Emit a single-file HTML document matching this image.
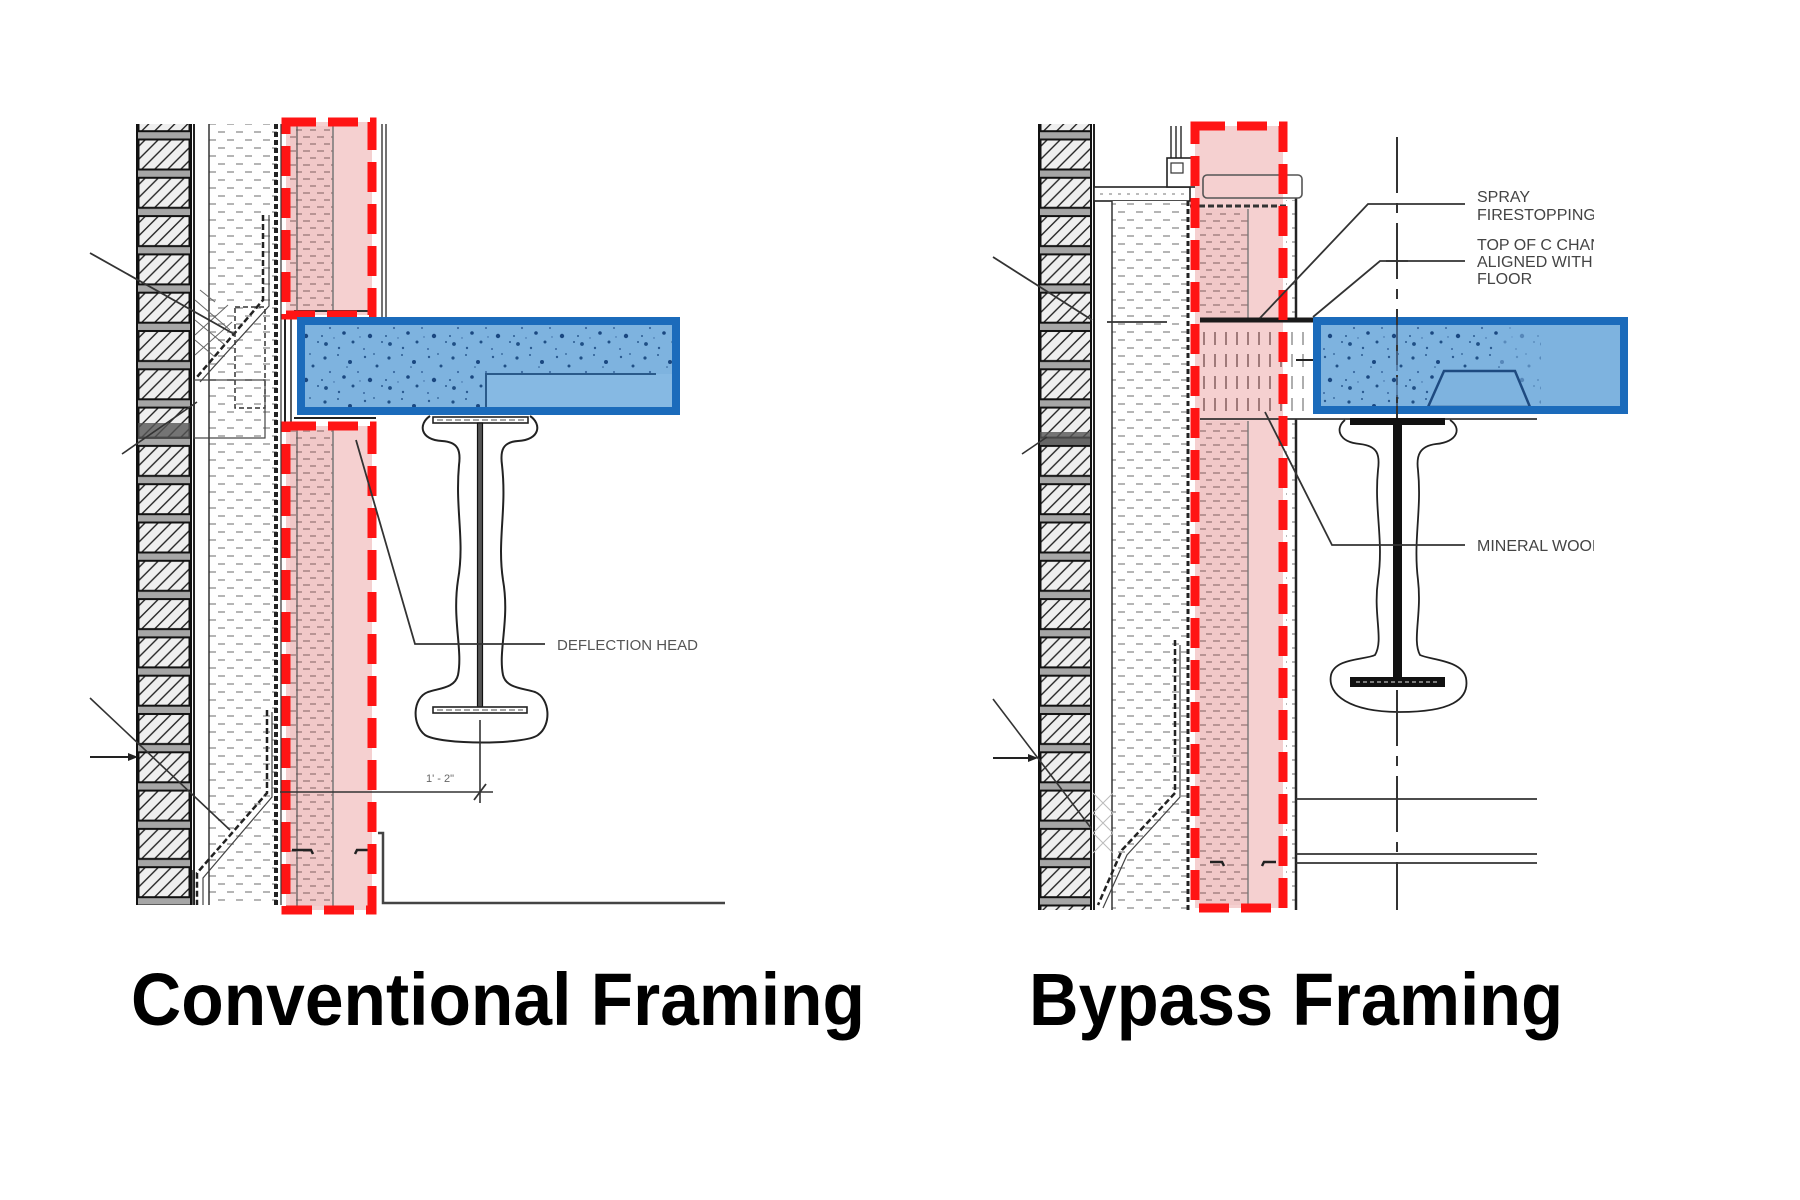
<!DOCTYPE html>
<html>
<head>
<meta charset="utf-8">
<style>
  html, body { margin: 0; padding: 0; background: #fff; }
  body { width: 1800px; height: 1200px; overflow: hidden; }
  svg { display: block; }
  .lbl { font-family: "Liberation Sans", Arial, sans-serif; font-size: 16px; fill: #444; }
  .ttl { font-family: "Liberation Sans", Arial, sans-serif; font-weight: bold; font-size: 74px; fill: #000; }
</style>
</head>
<body>
<svg width="1800" height="1200" viewBox="0 0 1800 1200" xmlns="http://www.w3.org/2000/svg">
  <defs>
    <pattern id="hatch" patternUnits="userSpaceOnUse" width="13" height="13">
      <rect width="13" height="13" fill="#efefef"/>
      <path d="M-2 15 L15 -2 M-2 2 L2 -2 M11 15 L15 11" stroke="#222" stroke-width="1.4"/>
    </pattern>
    <pattern id="brick" patternUnits="userSpaceOnUse" x="0" y="135" width="54" height="38.3">
      <rect width="54" height="38.3" fill="#a6a6a6"/>
      <rect x="1.5" y="4.5" width="51" height="30" fill="url(#hatch)" stroke="#111" stroke-width="2"/>
    </pattern>
    <pattern id="ins" patternUnits="userSpaceOnUse" width="18" height="16">
      <rect width="18" height="16" fill="#fff"/>
      <rect x="2" y="3" width="7" height="2" fill="#b5b5b5"/>
      <rect x="11" y="11" width="7" height="2" fill="#b5b5b5"/>
    </pattern>
    <pattern id="pdots" patternUnits="userSpaceOnUse" width="14" height="14">
      <rect width="14" height="14" fill="#f1c8c8"/>
      <rect x="2" y="3" width="6" height="2" fill="#b89494"/>
      <rect x="9" y="10" width="5" height="2" fill="#b89494"/>
      <rect x="0" y="10" width="2" height="2" fill="#b89494"/>
    </pattern>
    <pattern id="wdots" patternUnits="userSpaceOnUse" width="10" height="14">
      <rect width="10" height="14" fill="#fff"/>
      <rect x="2" y="3" width="5" height="2" fill="#b5b5b5"/>
    </pattern>
    <pattern id="mw" patternUnits="userSpaceOnUse" width="11" height="22">
      <line x1="5" y1="2" x2="5" y2="15" stroke="#8a6464" stroke-width="1.6"/>
    </pattern>
    <pattern id="mww" patternUnits="userSpaceOnUse" width="11" height="22">
      <rect width="11" height="22" fill="#fff"/>
      <line x1="5" y1="2" x2="5" y2="15" stroke="#999" stroke-width="1.6"/>
    </pattern>
    <pattern id="dots" patternUnits="userSpaceOnUse" width="64" height="44">
      <circle cx="5" cy="6" r="1.6" fill="#1f4f85"/>
      <circle cx="18" cy="3" r="1" fill="#2a5a90"/>
      <circle cx="30" cy="10" r="2" fill="#1a4780"/>
      <circle cx="45" cy="5" r="1.2" fill="#2a5a90"/>
      <circle cx="57" cy="14" r="1.5" fill="#1f4f85"/>
      <circle cx="10" cy="20" r="1.1" fill="#3a68a0"/>
      <circle cx="24" cy="25" r="1.8" fill="#1a4780"/>
      <circle cx="38" cy="20" r="1" fill="#3a68a0"/>
      <circle cx="50" cy="28" r="2.2" fill="#1a4780"/>
      <circle cx="62" cy="34" r="1" fill="#2a5a90"/>
      <circle cx="6" cy="36" r="1.9" fill="#1f4f85"/>
      <circle cx="19" cy="40" r="1.2" fill="#2a5a90"/>
      <circle cx="33" cy="34" r="1.5" fill="#1f4f85"/>
      <circle cx="44" cy="41" r="1" fill="#3a68a0"/>
      <circle cx="27" cy="15" r="0.8" fill="#2a5a90"/>
      <circle cx="54" cy="2" r="0.9" fill="#2a5a90"/>
      <circle cx="2" cy="28" r="1" fill="#2a5a90"/>
      <circle cx="14" cy="30" r="0.7" fill="#3a68a0"/>
      <circle cx="40" cy="29" r="0.7" fill="#3a68a0"/>
    </pattern>
    <clipPath id="txtclip"><rect x="0" y="0" width="1594" height="1200"/></clipPath>
  </defs>

  <rect width="1800" height="1200" fill="#fff"/>

  <!-- ================= LEFT PANEL : CONVENTIONAL ================= -->
  <g transform="translate(137,0)">
    <rect x="0" y="124" width="54" height="781" fill="url(#brick)"/>
    <line x1="0" y1="124" x2="0" y2="905" stroke="#111" stroke-width="2"/>
    <line x1="54" y1="124" x2="54" y2="905" stroke="#111" stroke-width="2"/>
    <rect x="1" y="423" width="52" height="15" fill="#555" opacity="0.8"/>
  </g>
  <line x1="194" y1="124" x2="194" y2="905" stroke="#222" stroke-width="2"/>
  <!-- insulation -->
  <rect x="209" y="124" width="68" height="781" fill="url(#ins)"/>
  <line x1="209" y1="124" x2="209" y2="905" stroke="#333" stroke-width="1.5"/>
  <line x1="276" y1="124" x2="276" y2="905" stroke="#222" stroke-width="4" stroke-dasharray="5 3"/>
  <line x1="281" y1="124" x2="281" y2="905" stroke="#333" stroke-width="1.2"/>
  <!-- upper flashing stuff -->
  <polyline points="263,215 263,300 197,377" fill="none" stroke="#222" stroke-width="2.5" stroke-dasharray="6 3"/>
  <polyline points="269,215 269,306 200,382" fill="none" stroke="#444" stroke-width="1.2"/>
  <rect x="235" y="307" width="30" height="101" fill="none" stroke="#333" stroke-width="1.5" stroke-dasharray="5 3"/>
  <rect x="194" y="380" width="71" height="58" fill="none" stroke="#444" stroke-width="1.2"/>
  <path d="M195 300 L230 330 M195 320 L225 345 M195 340 L215 357 M200 290 L215 302 M195 335 L228 305 M195 355 L232 322" stroke="#666" stroke-width="1" fill="none"/>
  <line x1="90" y1="253" x2="234" y2="334" stroke="#333" stroke-width="1.8"/>
  <line x1="122" y1="454" x2="197" y2="402" stroke="#333" stroke-width="1.6"/>

  <!-- upper stud wall -->
  <rect x="286" y="122" width="86" height="193" fill="#f5d0d0"/>
  <rect x="290" y="126" width="43" height="185" fill="url(#pdots)"/>
  <line x1="333" y1="126" x2="333" y2="311" stroke="#777" stroke-width="1.5"/>
  <line x1="294" y1="311" x2="368" y2="311" stroke="#333" stroke-width="2"/>
  <line x1="297" y1="126" x2="297" y2="311" stroke="#555" stroke-width="1.2"/>
  <line x1="382" y1="124" x2="382" y2="318" stroke="#444" stroke-width="1.5"/>
  <line x1="386" y1="124" x2="386" y2="318" stroke="#444" stroke-width="1.5"/>
  <!-- connection at slab -->
  <line x1="285" y1="315" x2="285" y2="428" stroke="#222" stroke-width="2"/>
  <line x1="291" y1="315" x2="291" y2="428" stroke="#222" stroke-width="1.5"/>
  <line x1="294" y1="418" x2="376" y2="418" stroke="#222" stroke-width="2"/>
  <!-- lower stud wall -->
  <rect x="286" y="426" width="86" height="484" fill="#f5d0d0"/>
  <rect x="290" y="430" width="43" height="476" fill="url(#pdots)"/>
  <line x1="333" y1="430" x2="333" y2="906" stroke="#777" stroke-width="1.5"/>
  <line x1="297" y1="430" x2="297" y2="906" stroke="#555" stroke-width="1.2"/>
  <path d="M292 850 L311 850 L313 854 M355 854 L357 850 L376 850" fill="none" stroke="#222" stroke-width="2.5"/>
  <!-- red dashed boxes -->
  <rect x="286" y="122" width="86" height="193" fill="none" stroke="#ff1414" stroke-width="9" stroke-dasharray="30 12"/>
  <rect x="286" y="426" width="86" height="484" fill="none" stroke="#ff1414" stroke-width="9" stroke-dasharray="30 12"/>

  <!-- slab -->
  <rect x="301" y="321" width="375" height="90" fill="#7eb3df"/>
  <rect x="305" y="325" width="367" height="82" fill="url(#dots)"/>
  <rect x="486" y="374" width="186" height="34" fill="#86b9e3"/>
  <polyline points="486,408 486,374 656,374" fill="none" stroke="#2a5a8a" stroke-width="2"/>
  <rect x="301" y="321" width="375" height="90" fill="none" stroke="#1b6bbb" stroke-width="8"/>

  <!-- I-beam left -->
  <path d="M430 416 C418 424,420 440,442 441 C458 442,461 450,459 465 C455 510,465 540,458 580 C452 620,463 650,458 675 C455 688,440 688,428 692 C412 698,412 725,425 735 C440 745,525 745,538 735 C552 725,550 698,535 692 C522 688,506 688,503 675 C498 650,510 620,503 580 C497 540,507 510,502 465 C500 450,503 442,518 441 C540 440,542 424,530 416" fill="#fff" stroke="#222" stroke-width="2"/>
  <rect x="433" y="417" width="95" height="6" fill="#fff" stroke="#222" stroke-width="1.6"/>
  <line x1="437" y1="420" x2="524" y2="420" stroke="#888" stroke-width="1.5" stroke-dasharray="6 3"/>
  <rect x="477.5" y="423" width="5" height="284" fill="#555" stroke="#111" stroke-width="1.2"/>
  <rect x="433" y="707" width="94" height="6" fill="#fff" stroke="#222" stroke-width="1.6"/>
  <line x1="437" y1="710" x2="523" y2="710" stroke="#888" stroke-width="1.5" stroke-dasharray="6 3"/>

  <!-- deflection head leader -->
  <polyline points="356,440 415,644 545,644" fill="none" stroke="#333" stroke-width="1.8"/>
  <text x="557" y="650" class="lbl" style="font-size:15px;fill:#555" textLength="141" lengthAdjust="spacingAndGlyphs">DEFLECTION HEAD</text>

  <!-- dimension -->
  <line x1="480" y1="720" x2="480" y2="803" stroke="#333" stroke-width="1.6"/>
  <line x1="280" y1="792" x2="493" y2="792" stroke="#333" stroke-width="1.6"/>
  <line x1="474" y1="800" x2="486" y2="784" stroke="#333" stroke-width="1.8"/>
  <text x="426" y="782" style="font-family:'Liberation Sans',Arial,sans-serif;font-size:11px;fill:#666">1' - 2"</text>

  <!-- lower items -->
  <polyline points="378,833 383,833 383,903 725,903" fill="none" stroke="#444" stroke-width="2.5"/>
  <line x1="90" y1="698" x2="230" y2="830" stroke="#333" stroke-width="1.6"/>
  <line x1="90" y1="757" x2="130" y2="757" stroke="#222" stroke-width="2"/>
  <polygon points="138,757 128,753 128,761" fill="#222"/>
  <polyline points="267,710 267,793 197,873 197,905" fill="none" stroke="#222" stroke-width="2.5" stroke-dasharray="6 3"/>
  <polyline points="272,712 272,797 203,878 203,905" fill="none" stroke="#444" stroke-width="1.2"/>
  <line x1="193" y1="870" x2="193" y2="905" stroke="#333" stroke-width="1.5"/>

  <!-- ================= RIGHT PANEL : BYPASS ================= -->
  <g transform="translate(1039,0)">
    <rect x="0" y="124" width="52" height="786" fill="url(#brick)"/>
    <line x1="0" y1="124" x2="0" y2="910" stroke="#111" stroke-width="2"/>
    <line x1="52" y1="124" x2="52" y2="910" stroke="#111" stroke-width="2"/>
    <rect x="1" y="432" width="50" height="13" fill="#555" opacity="0.8"/>
  </g>
  <line x1="1094" y1="124" x2="1094" y2="910" stroke="#222" stroke-width="2"/>
  <!-- cap / sill -->
  <rect x="1094" y="187" width="96" height="14" fill="#fff" stroke="#222" stroke-width="1.6"/>
  <line x1="1100" y1="194" x2="1185" y2="194" stroke="#777" stroke-width="1" stroke-dasharray="3 6"/>
  <!-- window frame -->
  <line x1="1171" y1="126" x2="1171" y2="160" stroke="#333" stroke-width="1.5"/>
  <line x1="1176" y1="126" x2="1176" y2="160" stroke="#333" stroke-width="1.5"/>
  <line x1="1181" y1="126" x2="1181" y2="160" stroke="#333" stroke-width="1.5"/>
  <rect x="1167" y="158" width="36" height="29" fill="#fff" stroke="#222" stroke-width="1.6"/>
  <rect x="1171" y="163" width="12" height="10" fill="none" stroke="#333" stroke-width="1.2"/>
  <!-- insulation -->
  <rect x="1112" y="201" width="75" height="709" fill="url(#ins)"/>
  <line x1="1112" y1="201" x2="1112" y2="910" stroke="#333" stroke-width="1.5"/>
  <line x1="1188" y1="201" x2="1188" y2="910" stroke="#222" stroke-width="3" stroke-dasharray="5 3"/>
  <line x1="1107" y1="322" x2="1167" y2="322" stroke="#333" stroke-width="1.8"/>
  <line x1="993" y1="257" x2="1092" y2="320" stroke="#333" stroke-width="1.8"/>
  <line x1="1022" y1="454" x2="1047" y2="437" stroke="#333" stroke-width="1.6"/>

  <!-- stud wall -->
  <rect x="1195" y="126" width="88" height="782" fill="#f5d0d0"/>
  <rect x="1200" y="209" width="48" height="109" fill="url(#pdots)"/>
  <rect x="1200" y="421" width="48" height="484" fill="url(#pdots)"/>
  <line x1="1248" y1="209" x2="1248" y2="318" stroke="#777" stroke-width="1.4"/>
  <line x1="1248" y1="421" x2="1248" y2="905" stroke="#777" stroke-width="1.4"/>
  <rect x="1286" y="200" width="9" height="118" fill="url(#wdots)"/>
  <rect x="1286" y="421" width="9" height="489" fill="url(#wdots)"/>
  <line x1="1296" y1="198" x2="1296" y2="318" stroke="#222" stroke-width="2.5"/>
  <line x1="1296" y1="419" x2="1296" y2="910" stroke="#222" stroke-width="2.5"/>
  <rect x="1203" y="175" width="99" height="23" rx="4" fill="none" stroke="#555" stroke-width="1.6"/>
  <line x1="1190" y1="206" x2="1287" y2="206" stroke="#333" stroke-width="3" stroke-dasharray="6 3"/>
  <!-- mineral wool -->
  <rect x="1200" y="323" width="84" height="95" fill="url(#mw)"/>
  <rect x="1284" y="323" width="29" height="95" fill="url(#mww)"/>
  <line x1="1296" y1="360" x2="1313" y2="360" stroke="#222" stroke-width="2"/>
  <line x1="1200" y1="320" x2="1315" y2="320" stroke="#1a1a1a" stroke-width="5"/>
  <line x1="1200" y1="419" x2="1537" y2="419" stroke="#333" stroke-width="1.8"/>
  <path d="M1210 862 L1222 862 L1224 866 M1262 866 L1264 862 L1276 862" fill="none" stroke="#222" stroke-width="2.5"/>
  <!-- red dashed -->
  <rect x="1195" y="126" width="88" height="782" fill="none" stroke="#ff1414" stroke-width="9" stroke-dasharray="30 12"/>

  <!-- slab -->
  <rect x="1317" y="321" width="307" height="89" fill="#7eb3df"/>
  <rect x="1321" y="325" width="220" height="81" fill="url(#dots)"/>
  <rect x="1500" y="325" width="45" height="81" fill="#7eb3df" opacity="0.6"/>
  <polygon points="1428,407 1444,371 1515,371 1530,407" fill="#7eb3df" stroke="#1e4a80" stroke-width="2.5"/>
  <rect x="1317" y="321" width="307" height="89" fill="none" stroke="#1b6bbb" stroke-width="8"/>

  <!-- I-beam right -->
  <path d="M1345 420 C1335 428,1338 442,1360 444 C1378 446,1380 455,1378 470 C1374 510,1384 540,1378 580 C1373 615,1384 640,1375 655 C1365 660,1335 658,1331 675 C1327 695,1350 712,1400 712 C1450 712,1470 700,1466 678 C1462 660,1430 660,1420 655 C1412 640,1422 615,1418 580 C1413 540,1422 510,1418 470 C1416 455,1420 446,1436 444 C1458 442,1462 428,1450 420" fill="#fff" stroke="#222" stroke-width="1.8"/>
  <rect x="1350" y="418" width="95" height="7" fill="#111"/>
  <rect x="1393" y="425" width="9" height="252" fill="#111"/>
  <rect x="1350" y="677" width="95" height="10" fill="#111"/>
  <line x1="1356" y1="682" x2="1440" y2="682" stroke="#bbb" stroke-width="1.2" stroke-dasharray="4 3"/>

  <!-- centerline -->
  <line x1="1397" y1="137" x2="1397" y2="418" stroke="#333" stroke-width="2" stroke-dasharray="56 10 10 10"/>
  <line x1="1397" y1="325" x2="1397" y2="406" stroke="#4a6f99" stroke-width="1.5" stroke-dasharray="20 6"/>
  <line x1="1397" y1="690" x2="1397" y2="910" stroke="#333" stroke-width="2" stroke-dasharray="56 10 10 10"/>
  <line x1="1386" y1="261" x2="1408" y2="261" stroke="#333" stroke-width="1.8"/>

  <!-- leaders -->
  <polyline points="1260,318 1368,204 1465,204" fill="none" stroke="#333" stroke-width="1.8"/>
  <polyline points="1313,317 1380,261 1465,261" fill="none" stroke="#333" stroke-width="1.8"/>
  <polyline points="1265,412 1332,545 1465,545" fill="none" stroke="#333" stroke-width="1.8"/>
  <g clip-path="url(#txtclip)">
    <text x="1477" y="202" class="lbl">SPRAY</text>
    <text x="1477" y="220" class="lbl">FIRESTOPPING</text>
    <text x="1477" y="250" class="lbl">TOP OF C CHANNEL</text>
    <text x="1477" y="267" class="lbl">ALIGNED WITH</text>
    <text x="1477" y="284" class="lbl">FLOOR</text>
    <text x="1477" y="551" class="lbl">MINERAL WOOL</text>
  </g>

  <!-- lower lines right -->
  <line x1="1296" y1="799" x2="1537" y2="799" stroke="#333" stroke-width="1.8"/>
  <line x1="1296" y1="854" x2="1537" y2="854" stroke="#333" stroke-width="1.8"/>
  <line x1="1296" y1="863" x2="1537" y2="863" stroke="#333" stroke-width="1.8"/>
  <line x1="993" y1="699" x2="1091" y2="828" stroke="#333" stroke-width="1.6"/>
  <line x1="993" y1="758" x2="1030" y2="758" stroke="#222" stroke-width="2"/>
  <polygon points="1038,758 1028,754 1028,762" fill="#222"/>
  <polyline points="1175,640 1175,793 1122,850 1098,905" fill="none" stroke="#222" stroke-width="2.5" stroke-dasharray="6 3"/>
  <polyline points="1180,645 1180,797 1127,855 1103,908" fill="none" stroke="#444" stroke-width="1.2"/>
  <path d="M1093 793 L1113 813 M1093 813 L1113 793 M1093 813 L1113 833 M1093 833 L1113 813 M1093 833 L1113 853 M1093 853 L1113 833" stroke="#bbb" stroke-width="1"/>

  <!-- titles -->
  <text x="131" y="1025" class="ttl" textLength="734" lengthAdjust="spacingAndGlyphs">Conventional Framing</text>
  <text x="1029" y="1025" class="ttl" textLength="534" lengthAdjust="spacingAndGlyphs">Bypass Framing</text>
</svg>
</body>
</html>
